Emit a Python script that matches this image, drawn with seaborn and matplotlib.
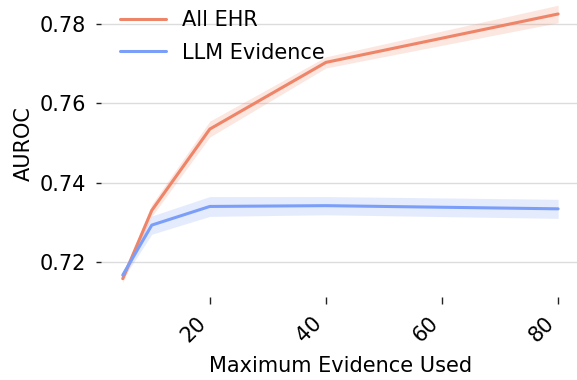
import numpy as np
import pandas as pd
import matplotlib
matplotlib.use("Agg")
import matplotlib.pyplot as plt
import seaborn as sns

# Maximum number of evidence items fed to the model
max_evidence = [5, 10, 20, 40, 80]

# Mean AUROC and confidence half-widths per setting
all_ehr_auroc = [0.7158, 0.7330, 0.7535, 0.7703, 0.7825]
all_ehr_ci = [0.0010, 0.0015, 0.0020, 0.0014, 0.0022]
llm_auroc = [0.7167, 0.7293, 0.7340, 0.7342, 0.7334]
llm_ci = [0.0010, 0.0023, 0.0025, 0.0023, 0.0024]

series_names = ["All EHR", "LLM Evidence"]
x_ticks = [20, 40, 60, 80]

sns.set_theme(style="whitegrid")
plt.rcParams["font.family"] = ["DejaVu Sans"]
plt.rcParams["text.color"] = "black"

cmap = plt.get_cmap("coolwarm")
palette = {"All EHR": cmap(0.8), "LLM Evidence": cmap(0.2)}

df = pd.DataFrame({
    "Maximum Evidence Used": max_evidence * 2,
    "AUROC": all_ehr_auroc + llm_auroc,
    "ci": all_ehr_ci + llm_ci,
    "Source": [series_names[0]] * len(max_evidence) + [series_names[1]] * len(max_evidence),
})

fig = plt.figure(figsize=(5.77, 3.8), dpi=100)
ax = fig.add_axes([0.175, 0.2197, 0.830, 0.803])

sns.lineplot(data=df, x="Maximum Evidence Used", y="AUROC", hue="Source",
             palette=palette, errorbar=None, linewidth=2.2, ax=ax)

for name in series_names:
    sub = df[df["Source"] == name]
    ax.fill_between(sub["Maximum Evidence Used"], sub["AUROC"] - sub["ci"],
                    sub["AUROC"] + sub["ci"], color=palette[name], alpha=0.2,
                    linewidth=0)

ax.set_xticks(x_ticks)
ax.set_yticks([0.72, 0.74, 0.76, 0.78])
ax.set_yticklabels(["0.72", "0.74", "0.76", "0.78"])
ax.grid(axis="x", visible=False)
ax.grid(axis="y", color="#dcdcdc", linewidth=1.0)
for spine in ax.spines.values():
    spine.set_visible(False)

ax.tick_params(axis="x", which="major", bottom=True, length=5, width=1,
               color="#222222", pad=7, labelsize=15, labelcolor="black")
ax.tick_params(axis="y", which="major", left=True, length=3.6, width=1,
               color="#222222", pad=7, labelsize=15, labelcolor="black")
for lbl in ax.get_xticklabels():
    lbl.set_rotation(45)
    lbl.set_ha("right")

ax.set_xlabel("Maximum Evidence Used", fontsize=15, color="black", labelpad=7)
ax.set_ylabel("AUROC", fontsize=15, color="black")

leg = ax.legend(loc="upper left", frameon=False, fontsize=15, title=None,
                handlelength=2.2, handletextpad=0.8, labelspacing=0.6)
for t in leg.get_texts():
    t.set_color("black")

fig.savefig("out.png", dpi=100)
